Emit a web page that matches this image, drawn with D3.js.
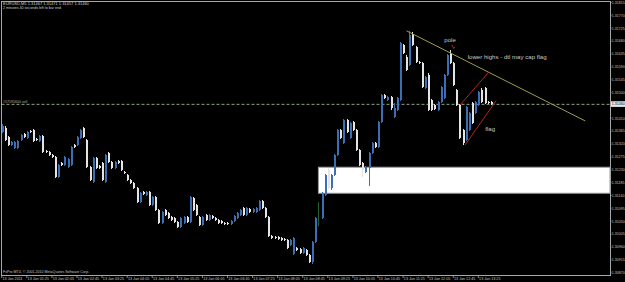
<!DOCTYPE html>
<html>
<head>
<meta charset="utf-8">
<script src="https://cdn.jsdelivr.net/npm/d3@7"></script>
<style>
  html, body { margin: 0; padding: 0; background: #000; }
  svg { display: block; font-family: "Liberation Sans", Arial, sans-serif; }
</style>
</head>
<body>
<svg id="chart" width="625" height="282"></svg>
<script>
// EURUSD M5, 13 Jan 2011, bars from 00:45 to 13:45
const opens = [
  1.31362,1.31376,1.31345,1.31317,1.31306,1.31306,1.31334,1.31355,1.31341,1.31366,
  1.31369,1.31338,1.31331,1.31348,1.31296,1.31292,1.31282,1.31275,1.31205,1.31254,
  1.31247,1.31240,1.31247,1.31317,1.31317,1.31341,1.31376,1.31334,1.31240,1.31187,
  1.31271,1.31243,1.31254,1.31187,1.31289,1.31257,1.31236,1.31261,1.31261,1.31222,
  1.31212,1.31194,1.31184,1.31166,1.31117,1.31152,1.31142,1.31152,1.31107,1.31135,
  1.31089,1.31044,1.31089,1.31079,1.31065,1.31061,1.31047,1.31030,1.31044,1.31065,
  1.31047,1.31131,1.31107,1.31065,1.31037,1.31072,1.31054,1.31068,1.31061,1.31054,
  1.31051,1.31044,1.31044,1.31040,1.31051,1.31061,1.31072,1.31096,1.31072,1.31093,
  1.31082,1.31082,1.31089,1.31121,1.31096,1.31065,1.30998,1.30995,1.30995,1.30991,
  1.30988,1.30984,1.30967,1.30935,1.30956,1.30953,1.30939,1.30949,1.30932,1.30907,
  1.30977,1.31037,1.31061,1.31142,1.31229,1.31166,1.31212,1.31282,1.31369,1.31324,
  1.31404,1.31341,1.31397,1.31369,1.31299,1.31254,1.31222,1.31236,1.31289,1.31324,
  1.31310,1.31397,1.31492,1.31474,1.31485,1.31415,1.31439,1.31474,1.31667,1.31625,
  1.31597,1.31705,1.31660,1.31607,1.31604,1.31516,1.31562,1.31474,1.31457,1.31439,
  1.31467,1.31481,1.31562,1.31639,1.31604,1.31509,1.31457,1.31369,1.31334,1.31369,
  1.31464,1.31429,1.31457,1.31509,1.31516,1.31467,1.31467
];
const highs = [
  1.31390,1.31383,1.31348,1.31331,1.31331,1.31334,1.31355,1.31359,1.31366,1.31369,
  1.31373,1.31341,1.31352,1.31352,1.31299,1.31296,1.31285,1.31278,1.31250,1.31257,
  1.31278,1.31271,1.31313,1.31320,1.31348,1.31373,1.31380,1.31338,1.31243,1.31275,
  1.31275,1.31247,1.31257,1.31285,1.31292,1.31261,1.31261,1.31264,1.31264,1.31226,
  1.31215,1.31198,1.31187,1.31170,1.31152,1.31156,1.31156,1.31156,1.31138,1.31138,
  1.31093,1.31086,1.31093,1.31082,1.31068,1.31065,1.31051,1.31065,1.31068,1.31068,
  1.31138,1.31135,1.31110,1.31068,1.31068,1.31075,1.31075,1.31072,1.31065,1.31058,
  1.31054,1.31047,1.31047,1.31054,1.31072,1.31082,1.31093,1.31100,1.31100,1.31096,
  1.31096,1.31100,1.31124,1.31124,1.31100,1.31068,1.31002,1.30998,1.30998,1.30995,
  1.30991,1.30988,1.30988,1.30995,1.30960,1.30956,1.30960,1.30953,1.30935,1.30981,
  1.31065,1.31117,1.31152,1.31215,1.31236,1.31215,1.31285,1.31373,1.31373,1.31408,
  1.31408,1.31397,1.31401,1.31373,1.31303,1.31257,1.31243,1.31292,1.31327,1.31327,
  1.31401,1.31495,1.31495,1.31488,1.31488,1.31464,1.31485,1.31677,1.31670,1.31632,
  1.31716,1.31712,1.31663,1.31611,1.31607,1.31558,1.31569,1.31478,1.31460,1.31471,
  1.31523,1.31565,1.31635,1.31649,1.31607,1.31513,1.31460,1.31373,1.31453,1.31432,
  1.31467,1.31471,1.31506,1.31516,1.31520,1.31471,1.31471
];
const lows = [
  1.31359,1.31331,1.31313,1.31313,1.31303,1.31303,1.31331,1.31341,1.31338,1.31359,
  1.31327,1.31331,1.31327,1.31289,1.31289,1.31278,1.31271,1.31201,1.31201,1.31243,
  1.31243,1.31236,1.31243,1.31306,1.31313,1.31338,1.31341,1.31236,1.31191,1.31184,
  1.31233,1.31233,1.31191,1.31184,1.31254,1.31233,1.31233,1.31250,1.31226,1.31215,
  1.31191,1.31180,1.31163,1.31114,1.31114,1.31142,1.31138,1.31103,1.31103,1.31086,
  1.31040,1.31040,1.31068,1.31058,1.31051,1.31044,1.31026,1.31026,1.31040,1.31044,
  1.31044,1.31086,1.31068,1.31033,1.31033,1.31051,1.31051,1.31058,1.31051,1.31040,
  1.31040,1.31037,1.31037,1.31037,1.31047,1.31058,1.31068,1.31068,1.31068,1.31079,
  1.31079,1.31079,1.31086,1.31093,1.31061,1.30995,1.30988,1.30988,1.30984,1.30981,
  1.30981,1.30953,1.30963,1.30932,1.30946,1.30935,1.30935,1.30928,1.30904,1.30900,
  1.30974,1.31033,1.31058,1.31138,1.31163,1.31159,1.31208,1.31278,1.31338,1.31320,
  1.31359,1.31338,1.31366,1.31296,1.31243,1.31205,1.31219,1.31173,1.31285,1.31306,
  1.31306,1.31394,1.31478,1.31471,1.31439,1.31411,1.31436,1.31471,1.31635,1.31576,
  1.31593,1.31663,1.31604,1.31600,1.31516,1.31513,1.31436,1.31436,1.31439,1.31436,
  1.31464,1.31478,1.31558,1.31600,1.31523,1.31453,1.31338,1.31317,1.31331,1.31366,
  1.31390,1.31425,1.31453,1.31464,1.31460,1.31460,1.31457
];
const closes = [
  1.31383,1.31334,1.31317,1.31327,1.31327,1.31331,1.31352,1.31345,1.31362,1.31362,
  1.31331,1.31334,1.31348,1.31292,1.31292,1.31282,1.31275,1.31205,1.31247,1.31247,
  1.31275,1.31268,1.31310,1.31310,1.31345,1.31369,1.31345,1.31240,1.31194,1.31271,
  1.31236,1.31236,1.31194,1.31282,1.31257,1.31236,1.31257,1.31254,1.31229,1.31219,
  1.31194,1.31184,1.31166,1.31117,1.31149,1.31145,1.31152,1.31107,1.31135,1.31089,
  1.31044,1.31082,1.31072,1.31061,1.31054,1.31047,1.31030,1.31061,1.31065,1.31047,
  1.31135,1.31089,1.31072,1.31037,1.31065,1.31054,1.31072,1.31061,1.31054,1.31044,
  1.31044,1.31040,1.31040,1.31051,1.31068,1.31079,1.31089,1.31072,1.31096,1.31082,
  1.31093,1.31096,1.31121,1.31096,1.31065,1.30998,1.30991,1.30991,1.30988,1.30984,
  1.30984,1.30956,1.30984,1.30991,1.30949,1.30939,1.30956,1.30932,1.30907,1.30977,
  1.31061,1.31114,1.31149,1.31212,1.31166,1.31212,1.31282,1.31369,1.31341,1.31404,
  1.31362,1.31394,1.31369,1.31299,1.31247,1.31229,1.31240,1.31289,1.31324,1.31310,
  1.31397,1.31492,1.31481,1.31485,1.31446,1.31446,1.31481,1.31674,1.31639,1.31579,
  1.31702,1.31667,1.31607,1.31604,1.31520,1.31555,1.31439,1.31439,1.31443,1.31467,
  1.31520,1.31562,1.31632,1.31604,1.31527,1.31457,1.31341,1.31324,1.31450,1.31429,
  1.31394,1.31467,1.31502,1.31467,1.31464,1.31464,1.31460
];
const greenBars = [101];   // bar drawn with the green outline

const priceTicks = [
  1.31815,1.31770,1.31725,1.31680,1.31635,1.31590,1.31545,1.31500,1.31455,1.31410,1.31365,
  1.31320,1.31275,1.31230,1.31185,1.31140,1.31095,1.31050,1.31005,1.30960,1.30915,1.30870
];
const timeTickBars = [0,8,16,24,32,40,48,56,64,72,80,88,96,104,112,120,128,136,144,152];
const timeTickLabels = [
  "13 Jan 2011","13 Jan 01:25","13 Jan 02:05","13 Jan 02:45","13 Jan 03:25",
  "13 Jan 04:05","13 Jan 04:45","13 Jan 05:25","13 Jan 06:05","13 Jan 06:45",
  "13 Jan 07:25","13 Jan 08:05","13 Jan 08:45","13 Jan 09:25","13 Jan 10:05",
  "13 Jan 10:45","13 Jan 11:25","13 Jan 12:05","13 Jan 12:45","13 Jan 13:25"
];

// chart objects (bar index, price)
const lastPrice = 1.31460;
const sellLinePrice = 1.31459;
const zoneStartBar = 101, zoneTop = 1.31239, zoneBottom = 1.31148;
const trendLine = [[129.1, 1.31716], [186.1, 1.31401]];
const flagUpper = [[146.2, 1.31457], [155.2, 1.31570]];
const flagLower = [[147.8, 1.31317], [157.7, 1.31472]];
const notes = [
  { bar: 143.0, price: 1.31685, text: "pole", anchor: "middle" },
  { bar: 148.6, price: 1.31626, text: "lower highs - dtl may cap flag", anchor: "start" },
  { bar: 154.2, price: 1.31373, text: "flag", anchor: "start" }
];
const poleMark = [143.9, 1.31660];

const width = 625, height = 282;
const plot = { left: 1.5, right: 610, top: 1.5, bottom: 275 };

const svg = d3.select('#chart');

const x = d3.scaleLinear().domain([-0.55, 194]).range([0, 610]);
const y = d3.scaleLinear().domain([1.30862, 1.31824]).range([275, 0]);

svg.append('rect').attr('width', width).attr('height', height).attr('fill', '#000');

svg.append('defs').append('clipPath').attr('id', 'plotclip')
  .append('rect').attr('x', plot.left).attr('y', plot.top)
  .attr('width', plot.right - plot.left).attr('height', plot.bottom - plot.top);

const g = svg.append('g').attr('clip-path', 'url(#plotclip)');

// support zone (white rectangle)
g.append('rect')
  .attr('x', x(zoneStartBar))
  .attr('y', y(zoneTop))
  .attr('width', plot.right - x(zoneStartBar))
  .attr('height', y(zoneBottom) - y(zoneTop))
  .attr('fill', '#ffffff')
  .attr('stroke', '#9a9a9a')
  .attr('stroke-width', 1);

// sell order line
g.append('line')
  .attr('x1', plot.left).attr('x2', plot.right)
  .attr('y1', y(sellLinePrice)).attr('y2', y(sellLinePrice))
  .attr('stroke', '#8fa58a')
  .attr('stroke-width', 1)
  .attr('stroke-dasharray', '3,2');

// candles
const bars = opens.map((o, i) => ({ i, o, h: highs[i], l: lows[i], c: closes[i] }));
const isGreen = d => greenBars.includes(d.i);
const barColor = d => isGreen(d) ? '#25602a' : (d.c >= d.o ? '#3a6fb6' : '#e4e4e4');

const candles = g.append('g').attr('shape-rendering', 'crispEdges')
  .selectAll('g').data(bars).join('g');

candles.append('rect')
  .attr('x', d => Math.round(x(d.i)))
  .attr('width', 1)
  .attr('y', d => y(d.h))
  .attr('height', d => Math.max(1, y(d.l) - y(d.h)))
  .attr('fill', barColor);

candles.filter(d => !isGreen(d)).append('rect')
  .attr('x', d => Math.round(x(d.i)) - 0.5)
  .attr('width', 2)
  .attr('y', d => y(Math.max(d.o, d.c)))
  .attr('height', d => Math.max(1.2, Math.abs(y(d.o) - y(d.c))))
  .attr('fill', barColor);

// trend line and flag channel
const line = d3.line().x(d => x(d[0])).y(d => y(d[1]));
g.append('path').attr('d', line(trendLine))
  .attr('fill', 'none').attr('stroke', '#9c9c48').attr('stroke-width', 1);
[flagUpper, flagLower].forEach(pts => {
  g.append('path').attr('d', line(pts))
    .attr('fill', 'none').attr('stroke', '#b3261e').attr('stroke-width', 1);
});

// small red marker at the pole top
g.append('path')
  .attr('transform', `translate(${x(poleMark[0])}, ${y(poleMark[1])})`)
  .attr('d', 'M-1.2,-2 L0.8,1.6 M0.8,1.6 L1.8,0.2')
  .attr('fill', 'none').attr('stroke', '#c0302a').attr('stroke-width', 0.9);

// text notes
g.selectAll('text.note').data(notes).join('text')
  .attr('class', 'note')
  .attr('x', d => x(d.bar))
  .attr('y', d => y(d.price))
  .attr('dy', '0.35em')
  .attr('text-anchor', d => d.anchor)
  .style('font-size', '6.1px')
  .style('fill', '#c8c8c8')
  .text(d => d.text);

// sell line label
svg.append('text')
  .attr('x', 3).attr('y', y(sellLinePrice) - 1.3)
  .style('font-size', '3.6px').style('fill', '#b0b0b0')
  .text('#57595600 sell');

// frame
svg.append('rect')
  .attr('x', plot.left).attr('y', plot.top)
  .attr('width', plot.right - plot.left).attr('height', plot.bottom - plot.top)
  .attr('fill', 'none').attr('stroke', '#a8a8a8').attr('stroke-width', 1)
  .attr('shape-rendering', 'crispEdges');

// price axis
const pAxis = svg.append('g');
pAxis.selectAll('line').data(priceTicks).join('line')
  .attr('x1', plot.right).attr('x2', plot.right + 1.5)
  .attr('y1', d => y(d)).attr('y2', d => y(d))
  .attr('stroke', '#a8a8a8').attr('stroke-width', 0.8);
pAxis.selectAll('text').data(priceTicks).join('text')
  .attr('x', plot.right + 1.8)
  .attr('y', d => y(d))
  .attr('dy', '0.35em')
  .style('font-size', '3.6px')
  .style('fill', '#c4c4c4')
  .text(d => d.toFixed(5));

// last price marker
svg.append('rect')
  .attr('x', plot.right + 1).attr('y', y(lastPrice) - 2.8)
  .attr('width', 14).attr('height', 5.6)
  .attr('fill', '#e8e8e8');
svg.append('text')
  .attr('x', plot.right + 1.8).attr('y', y(lastPrice))
  .attr('dy', '0.35em')
  .style('font-size', '3.6px').style('fill', '#000')
  .text(lastPrice.toFixed(5));

// time axis
const tAxis = svg.append('g');
tAxis.selectAll('line').data(timeTickBars).join('line')
  .attr('x1', d => x(d)).attr('x2', d => x(d))
  .attr('y1', plot.bottom).attr('y2', plot.bottom + 3)
  .attr('stroke', '#a8a8a8').attr('stroke-width', 0.8);
tAxis.selectAll('text').data(timeTickBars).join('text')
  .attr('x', d => x(d) + 0.8)
  .attr('y', 279.5)
  .style('font-size', '3.7px')
  .style('fill', '#c4c4c4')
  .text((d, i) => timeTickLabels[i]);

// header and footer texts
svg.append('text').attr('x', 3).attr('y', 5.2)
  .style('font-size', '4px').style('fill', '#d0d0d0')
  .text('EURUSD,M5  1.31467 1.31471 1.31457 1.31460');
svg.append('text').attr('x', 3).attr('y', 9)
  .style('font-size', '3.6px').style('fill', '#d0d0d0')
  .text('2 minutes 40 seconds left to bar end');
svg.append('text').attr('x', 3).attr('y', 272.5)
  .style('font-size', '3.6px').style('fill', '#c0c0c0')
  .text('FxPro MT4, © 2001-2010 MetaQuotes Software Corp.');
</script>
</body>
</html>
